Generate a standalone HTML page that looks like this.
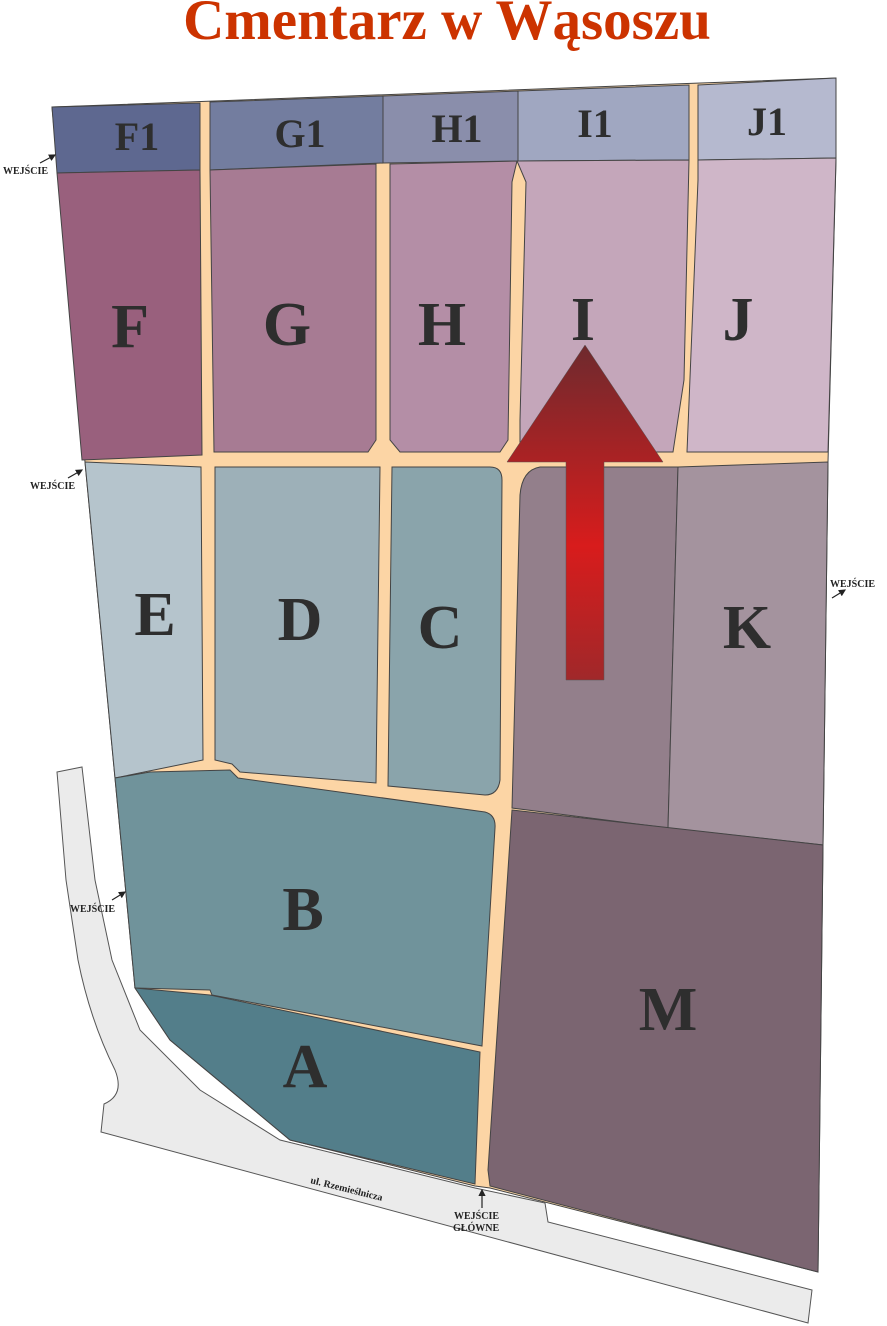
<!DOCTYPE html>
<html><head><meta charset="utf-8"><style>
html,body{margin:0;padding:0;background:#fff;width:887px;height:1326px;overflow:hidden}
svg{display:block}
.L{font-family:"Liberation Serif",serif;font-weight:bold;font-size:62px;fill:#2e2e2e;text-anchor:middle}
.s{font-family:"Liberation Serif",serif;font-weight:bold;font-size:10px;fill:#222}
</style></head><body>
<svg width="887" height="1326" viewBox="0 0 887 1326" xmlns="http://www.w3.org/2000/svg">
<defs><linearGradient id="ar" x1="0" y1="0" x2="0" y2="1">
<stop offset="0" stop-color="#6e2a2e"/><stop offset="0.6" stop-color="#d81c1c"/><stop offset="1" stop-color="#a0282a"/></linearGradient>
<marker id="m" markerWidth="6" markerHeight="6" refX="5" refY="3" orient="auto"><path d="M0,0 L6,3 L0,6 Z" fill="#222"/></marker></defs>
<text x="447" y="39" text-anchor="middle" font-family="Liberation Serif,serif" font-weight="bold" font-size="57" fill="#cc3300">Cmentarz w Wąsoszu</text>
<path d="M57,772 L82,767 L95,880 L112,960 L140,1030 L200,1090 L280,1140 L475,1188 L545,1203 L548,1222 L812,1290 L808,1323 L101,1132 L104,1104 Q125,1095 115,1070 Q90,1020 78,960 L66,880 Z" fill="#ebebeb" stroke="#555" stroke-width="1"/>
<path d="M52,107 L836,78 L836,160 L828,462 L823,845 L818,1272 L490,1188 L475,1186 L290,1140 L170,1040 L135,988 L115,778 L85,462 Z" fill="#fcd5a5" stroke="#444" stroke-width="1"/>
<g stroke="#444" stroke-width="1">
<polygon points="52,107 200,103 200,170 57,173" fill="#5e6890"/>
<polygon points="210,102 383,96 383,163 210,170" fill="#737d9f"/>
<polygon points="383,96 518,91 518,161 383,163" fill="#8a8eab"/>
<polygon points="518,91 689,85 689,160 518,161" fill="#a0a7c1"/>
<polygon points="698,85 836,78 836,158 698,160" fill="#b5b9cf"/>
<polygon points="57,173 200,170 202,455 82,460" fill="#99607d"/>
<polygon points="210,170 376,164 376,440 368,452 214,452" fill="#a77b93"/>
<polygon points="390,164 517,161 512,182 508,440 500,452 400,452 390,440" fill="#b48ea6"/>
<polygon points="517,161 689,160 684,380 673,452 520,452 520,420 526,182" fill="#c4a6ba"/>
<polygon points="698,160 836,158 828,452 687,452 698,180" fill="#cfb6c8"/>
<polygon points="85,462 201,467 203,760 115,778" fill="#b5c4cc"/>
<polygon points="215,467 380,467 376,783 240,772 232,764 215,760" fill="#9db0b8"/>
<path d="M392,467 L490,467 Q502,467 502,480 L500,780 Q498,795 485,795 L388,786 Z" fill="#8aa4ab"/>
<path d="M540,467 L678,467 L668,828 L512,808 L520,495 Q522,470 540,467 Z" fill="#937f8b"/>
<polygon points="678,467 828,462 823,845 668,828" fill="#a4939e"/>
<path d="M115,778 L150,772 L230,770 L238,778 L485,812 Q496,815 495,828 L482,1046 L212,995 L210,990 L135,988 Z" fill="#70939b"/>
<polygon points="135,988 210,995 480,1052 475,1184 290,1140 170,1040" fill="#537e8a"/>
<polygon points="512,810 823,845 818,1272 490,1186 488,1170" fill="#7b6571"/>
</g>
<polygon points="507,462 585,345 663,462 604,462 604,680 566,680 566,462" fill="url(#ar)" stroke="#555" stroke-width="0.5"/>
<g class="L" style="font-size:40px">
<text x="137" y="150">F1</text><text x="300" y="147">G1</text><text x="457" y="142">H1</text><text x="595" y="137">I1</text><text x="767" y="135">J1</text>
</g>
<g class="L">
<text x="130" y="347">F</text><text x="287" y="345">G</text><text x="442" y="345">H</text><text x="583" y="340">I</text><text x="738" y="340">J</text>
<text x="155" y="635">E</text><text x="300" y="640">D</text><text x="440" y="648">C</text><text x="747" y="648">K</text>
<text x="303" y="930">B</text><text x="305" y="1087">A</text><text x="668" y="1030">M</text>
</g>
<g class="s">
<text x="3" y="174">WEJŚCIE</text><text x="30" y="489">WEJŚCIE</text><text x="830" y="587">WEJŚCIE</text><text x="70" y="912">WEJŚCIE</text>
<text x="454" y="1219">WEJŚCIE</text><text x="453" y="1231">GŁÓWNE</text>
<text x="310" y="1183" transform="rotate(14 310 1183)">ul. Rzemieślnicza</text>
</g>
<g stroke="#222" stroke-width="1.2" marker-end="url(#m)">
<line x1="40" y1="163" x2="55" y2="155"/><line x1="68" y1="478" x2="82" y2="470"/><line x1="832" y1="598" x2="845" y2="590"/><line x1="112" y1="900" x2="125" y2="892"/><line x1="482" y1="1208" x2="482" y2="1190"/>
</g>
</svg>
</body></html>
